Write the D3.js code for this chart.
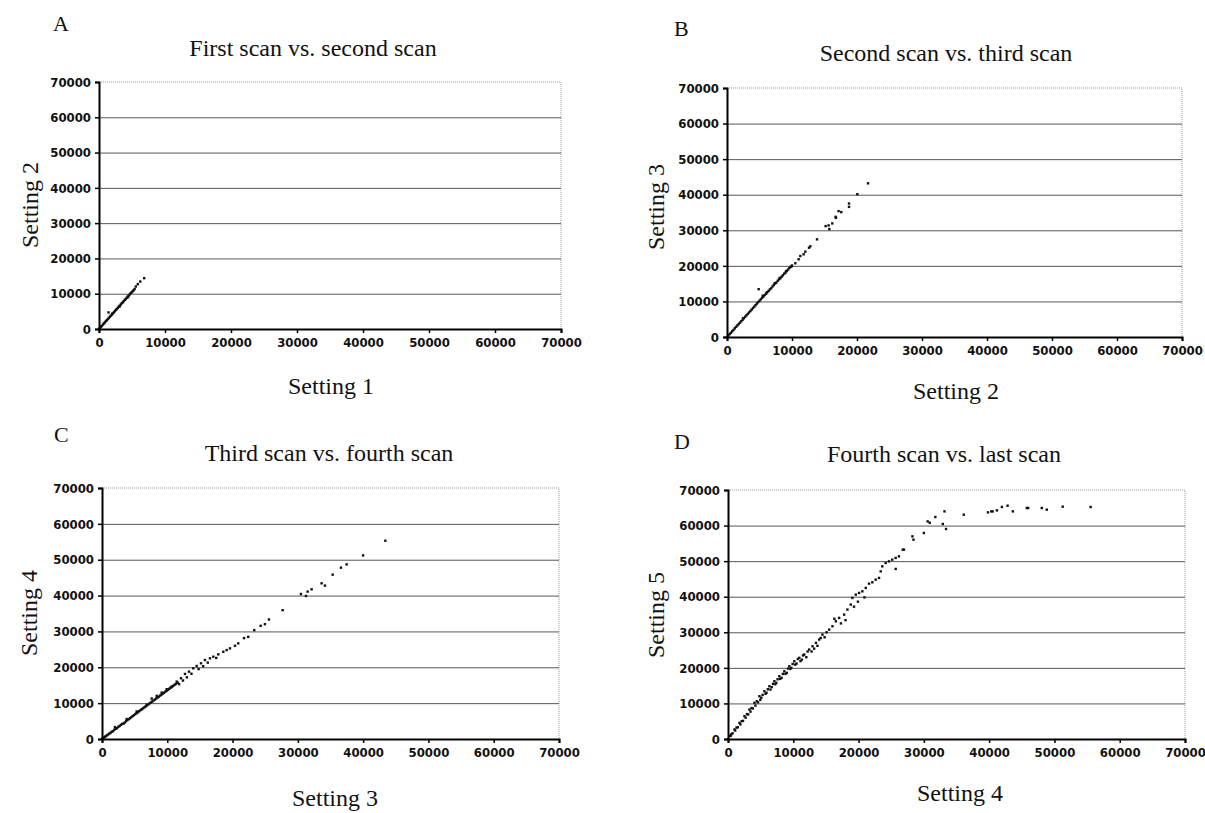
<!DOCTYPE html>
<html>
<head>
<meta charset="utf-8">
<script src="https://cdn.jsdelivr.net/npm/d3@7"></script>
<style>
  body { margin: 0; background: #fff; }
  .tick text { font-family: "DejaVu Sans Condensed", "DejaVu Sans", sans-serif; font-stretch: condensed;
               font-weight: bold; font-size: 13px; fill: #111; }
  .serif { font-family: "Liberation Serif", "Times New Roman", serif; fill: #111; }
</style>
</head>
<body>
<script>
// values
var ticks = [0, 10000, 20000, 30000, 40000, 50000, 60000, 70000];
var panelLetters = ["A", "B", "C", "D"];
var panelTitles = ["First scan vs. second scan", "Second scan vs. third scan",
                   "Third scan vs. fourth scan", "Fourth scan vs. last scan"];
var xLabels = ["Setting 1", "Setting 2", "Setting 3", "Setting 4"];
var yLabels = ["Setting 2", "Setting 3", "Setting 4", "Setting 5"];

var pointsA = [
  [0,0],[150,300],[300,640],[420,880],[600,1250],[750,1600],[900,1880],[1050,2250],[1200,2500],
  [1350,2850],[1500,3150],[1650,3500],[1800,3780],[1950,4100],[2100,4450],[2250,4700],[2400,5050],
  [2550,5400],[2700,5650],[2850,6000],[3000,6350],[3150,6600],[3300,6950],[3450,7300],[3600,7550],
  [3750,7900],[3900,8250],[4050,8500],[4200,8850],[4350,9200],[4500,9450],[4650,9800],[4800,10150],
  [4950,10400],[5100,10700],[5250,11000],[5400,11350],[5580,12050],[5880,12700],[6250,13450],
  [6850,14400],[1440,4700],[2000,4300],[3100,6300],[4400,9000]
];

var pointsB = [
  [0,0],[200,380],[400,800],[600,1200],[800,1600],[1000,2000],[1200,2450],[1400,2850],[1600,3250],
  [1800,3650],[2000,4050],[2200,4450],[2400,4850],[2600,5300],[2800,5700],[3000,6100],[3200,6500],
  [3400,6900],[3600,7300],[3800,7700],[4000,8150],[4200,8550],[4400,8950],[4600,9400],[4800,9800],
  [5000,10200],[5200,10600],[5400,11000],[5600,11350],[5800,11800],[6000,12150],[6200,12600],
  [6400,12950],[6600,13400],[6800,13700],[7000,14200],[7200,14600],[7430,15130],[7600,15300],
  [7800,15800],[8000,16200],[8200,16500],[8400,16950],[8600,17350],[8800,17800],[9000,18100],
  [9200,18600],[9400,18950],[9600,19400],[9800,19700],[10000,20100],[10510,20730],[11020,21850],
  [11280,22770],[11790,23250],[12050,23980],[12620,25100],[12820,25490],[13850,27450],[15170,31180],
  [15630,31370],[15740,30340],[16200,31930],[16710,33780],[16770,33500],[17170,35380],[17580,35100],
  [18770,37530],[18770,36580],[20050,40140],[21700,43200],[4870,13440],[2500,5300],[5500,11600],
  [6100,12500],[7300,15000],[8100,16600],[9100,18500],[9900,19800]
];

var pointsC = [
  [0,0],[150,200],[300,400],[450,620],[600,800],[750,1020],[900,1200],[1100,1480],[1300,1700],
  [1500,2040],[1700,2200],[1900,2600],[2100,2850],[2300,3000],[2500,3400],[2700,3650],[2900,3950],
  [3100,4200],[3300,4300],[3500,4600],[3700,5000],[3900,5300],[4100,5550],[4300,5800],[4500,6100],
  [4700,6400],[4900,6650],[5100,6950],[5300,7200],[5500,7450],[5700,7750],[5900,8050],[6100,8300],
  [6300,8550],[6500,8850],[6700,9100],[6900,9400],[7100,9650],[7300,9950],[7500,10200],[7700,10450],
  [7900,10750],[8100,11000],[8300,11300],[8500,11550],[8700,11800],[8900,12100],[9100,12350],
  [9300,12650],[9500,12900],[9700,13200],[9900,13450],[10100,13700],[10300,14000],[10500,14300],
  [10700,14500],[10900,14800],[11100,15100],[11300,15350],[11600,15700],
  [1990,3330],[3780,5560],[5310,7670],[6840,9530],[7610,11280],[8380,12030],[9140,12940],[9910,13890],
  [10670,14610],[11440,16000],[11800,15300],[12100,16940],[12400,16300],[12710,18140],[13000,17200],
  [13320,18780],[13700,18200],[13980,19720],[14500,20360],[14800,19500],[15160,21110],[15500,20300],
  [15770,22030],[16200,21300],[16540,22500],[17050,22940],[17500,22600],[17810,23610],[18580,24330],
  [19090,24800],[19600,25280],[20370,26000],[20870,26670],[21750,28140],[22400,28500],[23320,30360],
  [24300,31560],[24960,32030],[25570,33330],[27670,35920],[30470,40440],[31240,39890],[31500,41110],
  [32110,41750],[33640,43420],[34150,42780],[35330,45830],[36600,47780],[37470,48700],[40000,51200],
  [43400,55300]
];

var pointsD = [
  [0,0],[230,790],[400,900],[500,1300],[700,1600],[990,2670],[1100,2400],[1300,3200],[1500,3300],
  [1760,4550],[1900,4100],[2100,5000],[2300,5100],[2520,6400],[2700,6000],[2900,7000],[3100,6900],
  [3280,8290],[3450,7700],[3600,8700],[3800,8600],[4050,10170],[4200,9400],[4400,10600],[4600,10300],
  [4810,12020],[4950,11000],[5100,11600],[5300,12400],[5570,13430],[5750,12700],[5900,13000],
  [6100,14000],[6340,14830],[6500,13900],[6700,14600],[6900,15500],[7100,16240],[7250,15400],
  [7400,15800],[7600,16800],[7860,17640],[8000,16900],[8200,17200],[8400,18300],[8630,19040],
  [8800,18300],[9000,18600],[9200,19800],[9390,20450],[9550,19700],[9700,20000],[9900,21100],
  [10150,21850],[10300,20900],[10500,21200],[10700,22500],[10920,22810],[11100,21900],[11300,22300],
  [11500,23500],[11680,23740],[12000,23000],[12200,24600],[12440,25140],[12800,24600],[12950,26070],
  [13200,25400],[13470,27020],[13700,26200],[13970,27950],[14200,28400],[14470,29350],[14800,28600],
  [15100,30000],[15500,30760],[16000,31690],[16300,33800],[16520,33090],[17020,34040],[17300,32500],
  [17790,34970],[18000,33400],[18290,36380],[18810,37780],[19050,39660],[19300,37200],[19570,40590],
  [19900,38600],[20080,41070],[20580,41520],[20900,39800],[21100,42470],[21600,43680],[22110,44050],
  [22620,44800],[23130,45280],[23390,47130],[23630,48540],[24150,49490],[24660,49940],[25160,50420],
  [25680,50900],[25680,47810],[26180,51350],[26770,53230],[26950,53230],[28250,56970],[28410,56040],
  [30000,57920],[30580,61180],[30900,60800],[31760,62400],[32900,60450],[33160,63990],[33400,59040],
  [36110,63060],[39820,63710],[40330,63990],[40530,63990],[41190,64270],[41950,65220],[42820,65590],
  [43630,63990],[45770,64940],[45980,64940],[48060,64940],[48830,64470],[51270,65310],[55540,65220]
];

var allPoints = [pointsA, pointsB, pointsC, pointsD];

// plot boxes and text anchors for the four panels
var layout = [
  {l: 99,  r: 561,  t: 82,  b: 329, letter: [53, 31],  title: [313, 56],  yl: [30, 205],  xl: [331, 394]},
  {l: 727, r: 1182, t: 88,  b: 337, letter: [674, 36], title: [946, 61],  yl: [656, 207], xl: [956, 399]},
  {l: 102, r: 559,  t: 488, b: 739, letter: [54, 442], title: [329, 461], yl: [29, 613],  xl: [335, 806]},
  {l: 728, r: 1185, t: 490, b: 739, letter: [674, 449], title: [944, 462], yl: [656, 615], xl: [960, 801]}
];

var svg = d3.select("body")
    .append("svg")
    .attr("width", 1205)
    .attr("height", 813);

layout.forEach(function(p, i){
    var x = d3.scaleLinear().domain([0, 70000]).range([p.l, p.r]);
    var y = d3.scaleLinear().domain([0, 70000]).range([p.b, p.t]);
    var g = svg.append("g");

    // dotted frame top and right
    g.append("path")
        .attr("d", "M" + p.l + "," + p.t + "H" + p.r + "V" + p.b)
        .attr("fill", "none")
        .attr("stroke", "#999")
        .attr("stroke-width", 1)
        .attr("stroke-dasharray", "1,1");

    // horizontal gridlines
    g.append("g")
        .attr("transform", "translate(" + p.l + ",0)")
        .call(d3.axisLeft(y).tickValues(ticks.slice(1, -1)).tickSize(-(p.r - p.l)).tickFormat(""))
        .call(function(s){
            s.select(".domain").remove();
            s.selectAll("line").attr("stroke", "#555").attr("stroke-width", 1);
        });

    // points
    g.selectAll(".pt")
        .data(allPoints[i])
        .enter()
        .append("rect")
        .attr("class", "pt")
        .attr("x", function(d){ return x(d[0]) - 1.2; })
        .attr("y", function(d){ return y(d[1]) - 1.2; })
        .attr("width", 2.4)
        .attr("height", 2.4)
        .attr("fill", "#111");

    // axes
    var yAxis = g.append("g")
        .attr("transform", "translate(" + p.l + ",0)")
        .call(d3.axisLeft(y).tickValues(ticks).tickSize(4).tickPadding(4).tickFormat(d3.format("d")));
    var xAxis = g.append("g")
        .attr("transform", "translate(0," + p.b + ")")
        .call(d3.axisBottom(x).tickValues(ticks).tickSize(4).tickPadding(5).tickFormat(d3.format("d")));
    [yAxis, xAxis].forEach(function(a){
        a.select(".domain").attr("stroke", "#000").attr("stroke-width", 2);
        a.selectAll(".tick line").attr("stroke", "#000").attr("stroke-width", 1.5);
    });

    // texts
    g.append("text")
        .attr("class", "serif")
        .attr("x", p.letter[0]).attr("y", p.letter[1])
        .style("font-size", "22px")
        .text(panelLetters[i]);
    g.append("text")
        .attr("class", "serif")
        .attr("x", p.title[0]).attr("y", p.title[1])
        .attr("text-anchor", "middle")
        .style("font-size", "24px")
        .text(panelTitles[i]);
    g.append("text")
        .attr("class", "serif")
        .attr("transform", "translate(" + p.yl[0] + "," + p.yl[1] + ") rotate(-90)")
        .attr("text-anchor", "middle")
        .attr("dy", "0.35em")
        .style("font-size", "24px")
        .text(yLabels[i]);
    g.append("text")
        .attr("class", "serif")
        .attr("x", p.xl[0]).attr("y", p.xl[1])
        .attr("text-anchor", "middle")
        .style("font-size", "24px")
        .text(xLabels[i]);
});
</script>
</body>
</html>
